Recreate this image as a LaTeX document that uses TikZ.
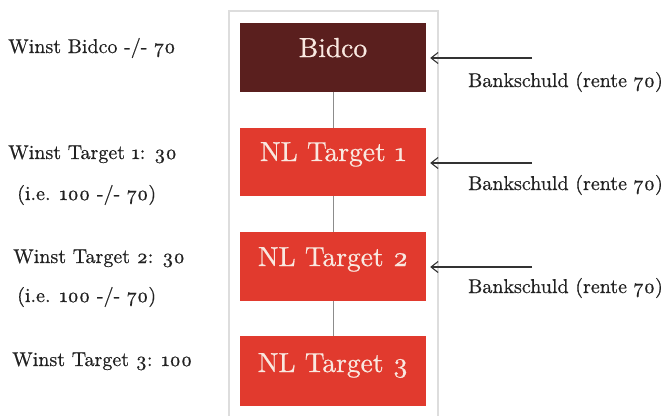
\documentclass[tikz,border=0pt]{standalone}
\usepackage{fontspec}
\usetikzlibrary{arrows.meta}

% Latin Modern, slightly emboldened, with old-style figures
\setmainfont{lmroman10-regular.otf}[FakeBold=0.6, Numbers=OldStyle]

\definecolor{bidcocol}{HTML}{5A1F1E}
\definecolor{targetcol}{HTML}{E13A2E}
\definecolor{boxtext}{HTML}{F9E8E0}
\definecolor{labeltext}{HTML}{222222}
\definecolor{framecol}{HTML}{DDDDDD}
\definecolor{conncol}{HTML}{8C8C8C}
\definecolor{arrowcol}{HTML}{333333}

\tikzset{
  entity/.style={rectangle, inner sep=0pt, minimum width=186pt,
    text=boxtext, font=\fontsize{27.5}{31}\selectfont},
  note/.style={anchor=base west, inner sep=0pt, text=labeltext,
    font=\fontsize{20}{24}\selectfont},
  link/.style={draw=conncol, line width=1pt},
  debt/.style={draw=arrowcol, line width=1.1pt, shorten >=4pt,
    -{Straight Barb[length=7pt,width=11pt,line width=1.1pt]}},
}

\begin{document}
\begin{tikzpicture}[x=1pt,y=-1pt]
  \useasboundingbox (0,0) rectangle (669,415);

  % light frame around the group structure
  \draw[framecol, line width=1.5pt] (229,416) -- (229,11) -- (438,11) -- (438,416);

  % companies
  \node[entity, fill=bidcocol, text height=34pt, text depth=35pt]
    (bidco) at (333,57.5) {Bidco};
  \node[entity, fill=targetcol, text height=33pt, text depth=35pt]
    (t1) at (333,162) {NL Target 1};
  \node[entity, fill=targetcol, text height=34pt, text depth=35pt]
    (t2) at (333,266.5) {NL Target 2};
  \node[entity, fill=targetcol, text height=36pt, text depth=34pt]
    (t3) at (333,371) {NL Target 3};

  % ownership links
  \draw[link] (bidco) -- (t1);
  \draw[link] (t1) -- (t2);
  \draw[link] (t2) -- (t3);

  % bank debt arrows
  \coordinate (d1) at (532,58);
  \coordinate (d2) at (532,163);
  \coordinate (d3) at (532,267);
  \draw[debt] (d1) -- (bidco.east |- d1);
  \draw[debt] (d2) -- (t1.east |- d2);
  \draw[debt] (d3) -- (t2.east |- d3);

  \node[note] (b1) at (468,87) {Bankschuld (rente 70)};
  \node[note] (b2) at (468,190) {Bankschuld (rente 70)};
  \node[note] (b3) at (468,293) {Bankschuld (rente 70)};

  % profit per company
  \node[note] (w0) at (8,53) {Winst Bidco -/- 70};
  \node[note] (w1) at (8,159) {Winst Target 1: 30};
  \node[note] (w1b) at (17,200) {(i.e. 100 -/- 70)};
  \node[note] (w2) at (13,263) {Winst Target 2: 30};
  \node[note] (w2b) at (17,302) {(i.e. 100 -/- 70)};
  \node[note] (w3) at (12,366) {Winst Target 3: 100};
\end{tikzpicture}
\end{document}
